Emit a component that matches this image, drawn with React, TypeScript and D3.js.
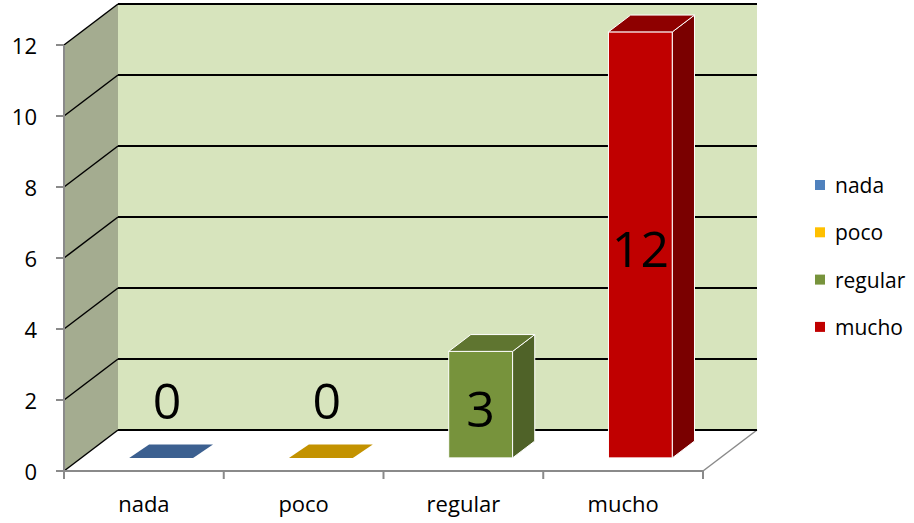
import * as d3 from 'd3';

// chart values
const categories = ['nada', 'poco', 'regular', 'mucho'];
const values = [0, 0, 3, 12];
const yTicks = [0, 2, 4, 6, 8, 10, 12];

// palette: front / side / top faces
const frontColors = ['#4F81BD', '#FFC000', '#77933C', '#C00000'];
const sideColors = ['#2F4D71', '#997300', '#4F6228', '#7A0000'];
const topColors = ['#3C6090', '#C39200', '#5F7530', '#8E0000'];

const W = 914;
const H = 523;
const font = '"Open Sans", "DejaVu Sans", sans-serif';

export default function App() {
  // front plane of the 3D plot
  const x = d3.scaleBand<string>().domain(categories).range([64, 703]);
  const y = d3.scaleLinear().domain([0, 12]).range([471, 45]);
  const depth = { x: 54, y: -41 };
  const f1 = 0.32; // bar front at this fraction of depth
  const f2 = 0.73; // bar back
  const barW = x.bandwidth() * 0.4;
  const ddx = depth.x * (f2 - f1);
  const ddy = depth.y * (f2 - f1);

  const backX0 = 64 + depth.x;
  const backX1 = 703 + depth.x;
  const pts = (p: number[][]) => p.map((d) => d.join(',')).join(' ');

  return (
    <svg
      width={W}
      height={H}
      style={{ position: 'absolute', left: 0, top: 0, background: '#fff' }}
      fontFamily={font}
    >
      {/* back wall */}
      <rect x={backX0} y={y(12) + depth.y} width={backX1 - backX0} height={y(0) - y(12)} fill="#D7E4BD" />
      {/* side wall */}
      <polygon
        points={pts([
          [64, y(0)],
          [64, y(12)],
          [backX0, y(12) + depth.y],
          [backX0, y(0) + depth.y],
        ])}
        fill="#A4AC90"
      />
      {/* floor */}
      <polygon
        points={pts([
          [64, y(0)],
          [703, y(0)],
          [backX1, y(0) + depth.y],
          [backX0, y(0) + depth.y],
        ])}
        fill="#fff"
      />
      <line x1={703} y1={y(0)} x2={backX1} y2={y(0) + depth.y} stroke="#8A8A8A" strokeWidth={1.5} />

      {/* gridlines */}
      {yTicks.map((t) => (
        <g key={'g' + t}>
          <line x1={backX0} x2={backX1} y1={y(t) + depth.y} y2={y(t) + depth.y} stroke="#000" strokeWidth={2} />
          <line x1={64} y1={y(t)} x2={backX0} y2={y(t) + depth.y} stroke="#000" strokeWidth={1.5} />
        </g>
      ))}

      {/* axes */}
      <line x1={64} x2={64} y1={y(0)} y2={y(12)} stroke="#8A8A8A" strokeWidth={2} />
      <line x1={64} x2={703} y1={y(0)} y2={y(0)} stroke="#8A8A8A" strokeWidth={2} />
      {yTicks.map((t) => (
        <g key={'t' + t}>
          <line x1={56} x2={64} y1={y(t)} y2={y(t)} stroke="#8A8A8A" strokeWidth={2} />
          <text x={37} y={y(t)} textAnchor="end" dominantBaseline="central" fontSize={22} fill="#000">
            {t}
          </text>
        </g>
      ))}
      {[...categories.map((c) => x(c) as number), 703].map((px, i) => (
        <line key={'xt' + i} x1={px} x2={px} y1={y(0)} y2={y(0) + 8} stroke="#8A8A8A" strokeWidth={2} />
      ))}
      {categories.map((c) => (
        <text key={'xl' + c} x={(x(c) as number) + x.bandwidth() / 2} y={512} textAnchor="middle" fontSize={22} fill="#000">
          {c}
        </text>
      ))}

      {/* bars */}
      {categories.map((c, i) => {
        const v = values[i];
        const x0 = (x(c) as number) + (x.bandwidth() - barW) / 2 + depth.x * f1;
        const x1 = x0 + barW;
        const yb = y(0) + depth.y * f1;
        const yt = y(v) + depth.y * f1;
        const zero = v === 0;
        const zdx = zero ? ddx * 0.9 : ddx;
        const zdy = zero ? ddy * 0.8 : ddy;
        return (
          <g key={'b' + c}>
            {!zero && (
              <>
                <rect x={x0} y={yt} width={barW} height={yb - yt} fill={frontColors[i]} stroke="#fff" strokeWidth={1} />
                <polygon
                  points={pts([
                    [x1, yt],
                    [x1 + ddx, yt + ddy],
                    [x1 + ddx, yb + ddy],
                    [x1, yb],
                  ])}
                  fill={sideColors[i]}
                  stroke="#fff"
                  strokeWidth={1}
                />
              </>
            )}
            <polygon
              points={pts([
                [x0, yt],
                [x1, yt],
                [x1 + zdx, yt + zdy],
                [x0 + zdx, yt + zdy],
              ])}
              fill={topColors[i]}
              stroke={zero ? 'none' : '#fff'}
              strokeWidth={1}
            />
            <text
              x={(x0 + x1) / 2 + (zero ? 6 : 0)}
              y={zero ? 400 : (yt + yb) / 2 + 3}
              textAnchor="middle"
              dominantBaseline="central"
              fontSize={50}
              fill="#000"
            >
              {v}
            </text>
          </g>
        );
      })}

      {/* legend */}
      {categories.map((c, i) => {
        const ly = 185 + i * 47.3;
        return (
          <g key={'l' + c}>
            <rect x={815} y={ly - 5} width={10} height={10} fill={frontColors[i]} />
            <text x={835} y={ly} dominantBaseline="central" fontSize={21} fill="#000">
              {c}
            </text>
          </g>
        );
      })}
    </svg>
  );
}
